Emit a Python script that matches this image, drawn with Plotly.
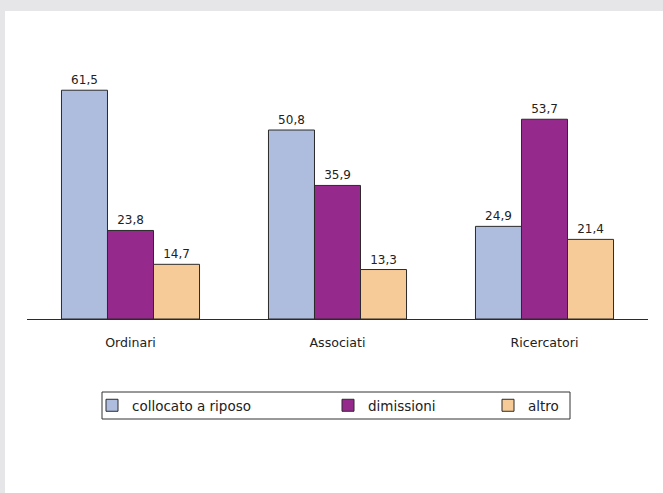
import plotly.graph_objects as go

categories = ["Ordinari", "Associati", "Ricercatori"]
series_names = ["collocato a riposo", "dimissioni", "altro"]
collocato = [61.5, 50.8, 24.9]
dimissioni = [23.8, 35.9, 53.7]
altro = [14.7, 13.3, 21.4]
colors = ["#aebcde", "#952a8c", "#f7cb98"]

W, H = 663, 493
ML, MR, MT, MB = 27, 15, 40, 174
PW, PH = W - ML - MR, H - MT - MB
FONT = "DejaVu Sans, Verdana, sans-serif"

def px_x(x):
    return (x - ML) / PW

def px_y(y):
    return (H - MB - y) / PH

def fmt(v):
    return f"{v:.1f}".replace(".", ",")

fig = go.Figure()
legends = ["legend", "legend2", "legend3"]
for name, vals, col, lg in zip(series_names, [collocato, dimissioni, altro], colors, legends):
    fig.add_trace(go.Bar(
        x=categories, y=vals, name=name,
        marker=dict(color=col, line=dict(color="#2b2b2b", width=1)),
        text=[fmt(v) for v in vals], textposition="outside",
        textfont=dict(color="#222", size=12, family=FONT),
        cliponaxis=False, legend=lg,
    ))

leg_anchor_x = [92, 328, 488]
leg_common = dict(orientation="h", yanchor="middle", xanchor="left",
                  bgcolor="rgba(0,0,0,0)", borderwidth=0,
                  font=dict(size=13.5, color="#222", family=FONT),
                  itemwidth=30)
layout_legends = {}
for lg, lx in zip(legends, leg_anchor_x):
    layout_legends[lg] = dict(leg_common, x=px_x(lx), y=px_y(405.5))

fig.update_layout(
    width=W, height=H,
    margin=dict(l=ML, r=MR, t=MT, b=MB),
    paper_bgcolor="#e6e6e8",
    plot_bgcolor="rgba(0,0,0,0)",
    font=dict(family=FONT, size=12.5, color="#222"),
    barmode="group", bargap=0.333, bargroupgap=0,
    showlegend=True,
    **layout_legends,
    xaxis=dict(showline=True, linecolor="#2b2b2b", linewidth=1, ticks="",
               showgrid=False, zeroline=False, ticklabelstandoff=12,
               tickfont=dict(size=12.6, color="#222", family=FONT)),
    yaxis=dict(range=[0, 75], visible=False, showgrid=False, zeroline=False),
    shapes=[
        dict(type="rect", xref="paper", yref="paper", layer="below",
             x0=px_x(5), x1=px_x(W + 5), y0=px_y(H + 5), y1=px_y(11),
             fillcolor="white", line=dict(width=0)),
        dict(type="rect", xref="paper", yref="paper",
             x0=px_x(102), x1=px_x(570), y0=px_y(419), y1=px_y(392),
             fillcolor="rgba(0,0,0,0)", line=dict(color="#333", width=1)),
    ],
)

fig.write_html("out.html")
